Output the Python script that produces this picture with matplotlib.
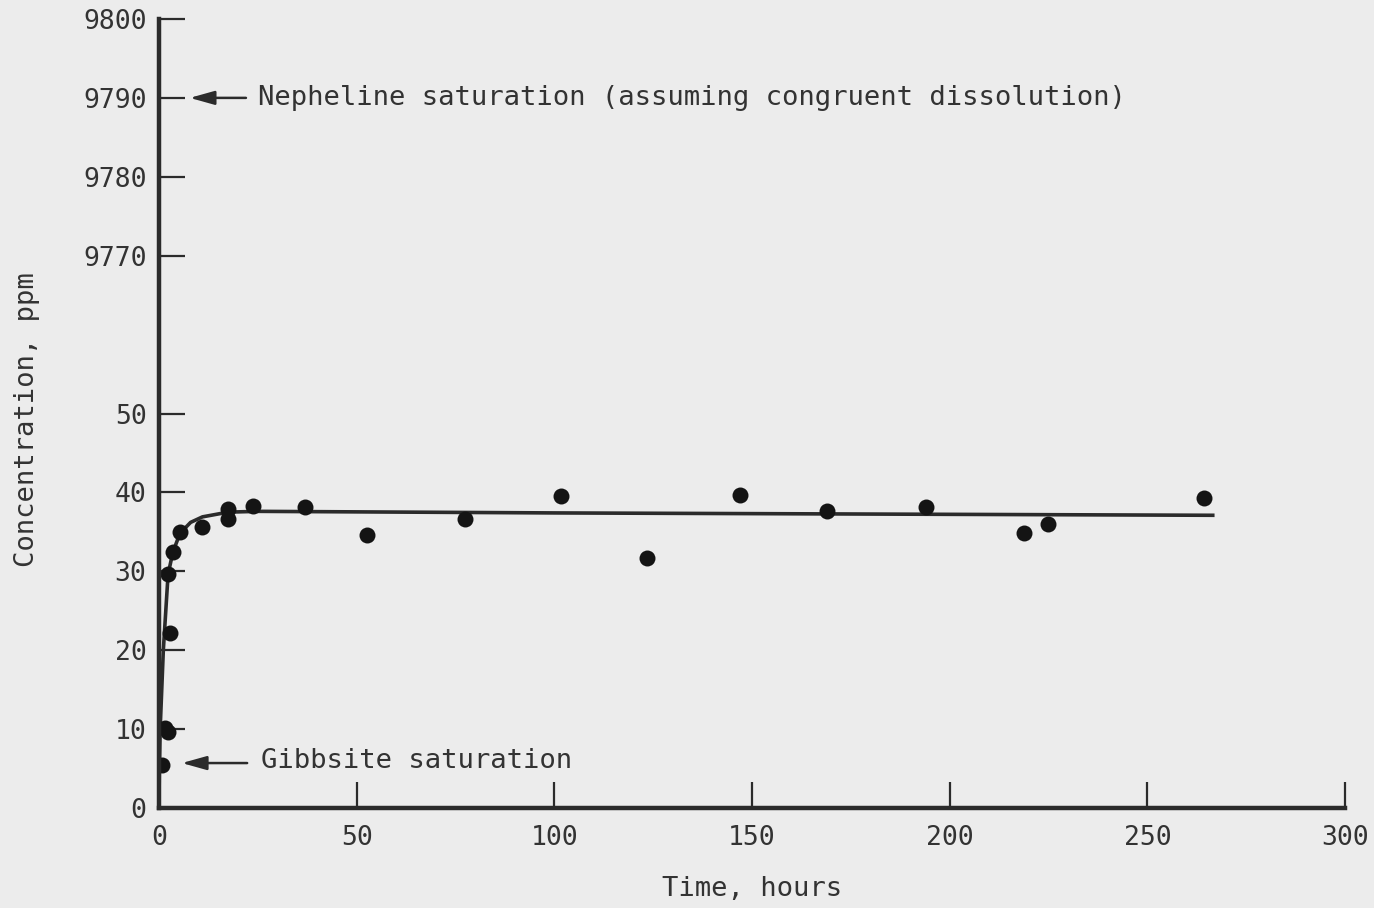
import numpy as np
import matplotlib
matplotlib.use("Agg")
import matplotlib.pyplot as plt

# measured points (hours, ppm)
hours = [0.7, 1.5, 2.4, 2.8, 2.3, 3.5, 5.3, 10.8, 17.5, 17.5, 23.8, 37.0, 52.6,
         77.5, 101.8, 123.5, 147.0, 169.0, 194.0, 218.7, 225.0, 264.3]
conc = [5.5, 10.2, 9.6, 22.2, 29.7, 32.4, 35.0, 35.6, 37.9, 36.6, 38.3, 38.1, 34.6,
        36.6, 39.6, 31.7, 39.7, 37.6, 38.1, 34.9, 36.0, 39.3]

# hand-drawn fit curve
fit_hours = [0.0, 0.1, 0.3, 1.1, 2.3, 3.5, 5.3, 8.0, 11.0, 17.5, 25.0, 100.0, 267.0]
fit_conc = [0.0, 5.0, 10.0, 20.0, 29.6, 32.4, 34.8, 36.2, 36.9, 37.5, 37.6, 37.4, 37.1]

yticks = [0, 10, 20, 30, 40, 50, 9770, 9780, 9790, 9800]
xticks = [0, 50, 100, 150, 200, 250, 300]

nepheline_level = 9790
gibbsite_level = 5.7


def fwd(v):
    v = np.asarray(v, dtype=float)
    return np.where(v <= 60, v, np.where(v >= 9760, v - 9700, 60))


def inv(u):
    u = np.asarray(u, dtype=float)
    return np.where(u <= 60, u, u + 9700)


bg = "#ececec"
ink = "#2b2b2b"
txt = "#333333"
fs = 19.6
plt.rcParams["font.family"] = ["DejaVu Sans Mono", "DejaVu Sans"]

fig = plt.figure(figsize=(13.74, 9.08), dpi=100, facecolor=bg)
ax = fig.add_axes([0.1157, 0.1101, 0.8632, 0.869], facecolor=bg)

ax.set_yscale("function", functions=(fwd, inv))
ax.set_xlim(0, 300)
ax.set_ylim(0, 9800)

ax.plot(fit_hours, fit_conc, color=ink, lw=2.6, solid_capstyle="butt")
ax.plot(hours, conc, "o", color="#141414", ms=11.5, mec="none")

for s in ["top", "right"]:
    ax.spines[s].set_visible(False)
for s in ["left", "bottom"]:
    ax.spines[s].set_linewidth(3.2)
    ax.spines[s].set_color(ink)

ax.set_xticks(xticks)
ax.set_yticks(yticks)
ax.set_xticklabels([str(t) for t in xticks])
ax.set_yticklabels([str(t) for t in yticks])
ax.tick_params(axis="both", direction="in", length=19, width=1.6, color=ink,
               labelsize=19, labelcolor=txt)
ax.tick_params(axis="x", pad=12)
ax.tick_params(axis="y", pad=9)

ax.set_xlabel("Time, hours", fontsize=fs, color=txt)
ax.set_ylabel("Concentration, ppm", fontsize=fs, color=txt)
ax.xaxis.set_label_coords(0.5, -0.086)
ax.yaxis.set_label_coords(-0.100, 0.492)

arrow = dict(arrowstyle="-|>,head_length=1.5,head_width=0.42", color=ink, lw=1.8,
             shrinkA=0, shrinkB=0)
ax.annotate("", xy=(7.8, nepheline_level), xytext=(22.0, nepheline_level),
            arrowprops=arrow)
ax.text(25.0, nepheline_level, "Nepheline saturation (assuming congruent dissolution)",
        fontsize=fs, color=txt, va="center", ha="left")

ax.annotate("", xy=(5.8, gibbsite_level), xytext=(22.3, gibbsite_level),
            arrowprops=arrow)
ax.text(25.8, gibbsite_level + 0.3, "Gibbsite saturation",
        fontsize=fs, color=txt, va="center", ha="left")

fig.savefig("out.png", dpi=100, facecolor=bg)
